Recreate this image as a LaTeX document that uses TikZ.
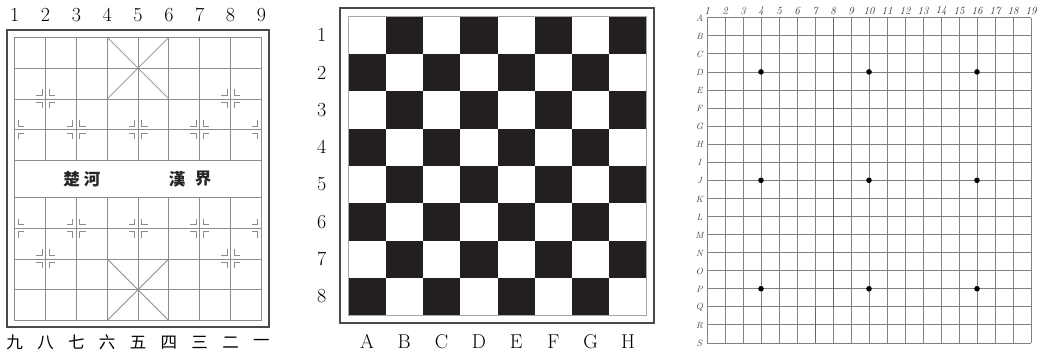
\documentclass[tikz,border=0pt]{standalone}
\usepackage{fontspec}
\newfontfamily\cjk{Noto Sans CJK SC}
\definecolor{xqgray}{HTML}{8C8C8C}
\definecolor{framegray}{HTML}{4A4A4A}
\definecolor{sqblack}{HTML}{231F20}
\definecolor{gogray}{HTML}{828282}
\newcommand\xqmark[3]{%
  \foreach \sx in {#3}{\foreach \sy in {-1,1}{%
    \draw[xqgrid] ({#1+\sx*9.5},{#2+\sy*3.5}) -- ({#1+\sx*3.5},{#2+\sy*3.5}) -- ({#1+\sx*3.5},{#2+\sy*9.5});
  }}}
\begin{document}
\begin{tikzpicture}[x=1pt,y=-1pt,
  xqgrid/.style={draw=xqgray,line width=0.8pt},
  xqframe/.style={draw=framegray,line width=2pt},
  numlabel/.style={font=\fontsize{20}{20}\selectfont,inner sep=0pt,anchor=center},
  cjklabel/.style={font=\cjk\fontsize{16.5}{16.5}\selectfont,inner sep=0pt,anchor=center},
  river/.style={font=\cjk\bfseries\fontsize{16.5}{16.5}\selectfont,inner sep=0pt,anchor=center,text=black!85},
  chframe/.style={draw=framegray,line width=1.8pt},
  chsq/.style={fill=sqblack},
  goline/.style={draw=gogray,line width=0.8pt},
  godark/.style={draw=black!60,line width=0.8pt},
  gostar/.style={fill=black,circle,inner sep=0pt,minimum size=5.6pt},
  golabtop/.style={font=\itshape\fontsize{11}{11}\selectfont,inner sep=0pt,anchor=center,text=black!80},
  golableft/.style={font=\itshape\fontsize{9}{9}\selectfont,inner sep=0pt,anchor=center,text=black!75}]
\useasboundingbox (0,0) rectangle (1038,351);

% ================= Xiangqi =================
\draw[xqframe] (7,30) rectangle (268.5,326.5);
\foreach \y in {37.3,68.1,98.9,129.7,160.5,197.3,228.1,258.9,289.7,320.5}
  \draw[xqgrid] (14.7,\y) -- (261.3,\y);
\foreach \c in {0,...,8}{
  \pgfmathsetmacro\xx{14.7+\c*30.83}
  \ifnum\c=0 \draw[xqgrid] (\xx,37.3) -- (\xx,320.5);
  \else\ifnum\c=8 \draw[xqgrid] (\xx,37.3) -- (\xx,320.5);
  \else
    \draw[xqgrid] (\xx,37.3) -- (\xx,160.5);
    \draw[xqgrid] (\xx,197.3) -- (\xx,320.5);
  \fi\fi
}
% palaces
\draw[xqgrid] (107.2,37.3) -- (168.8,98.9);
\draw[xqgrid] (168.8,37.3) -- (107.2,98.9);
\draw[xqgrid] (107.2,258.9) -- (168.8,320.5);
\draw[xqgrid] (168.8,258.9) -- (107.2,320.5);
% position marks
\xqmark{45.53}{98.9}{-1,1}
\xqmark{230.5}{98.9}{-1,1}
\xqmark{45.53}{258.9}{-1,1}
\xqmark{230.5}{258.9}{-1,1}
\foreach \yy in {129.7,228.1}{
  \xqmark{14.7}{\yy}{1}
  \xqmark{76.36}{\yy}{-1,1}
  \xqmark{138.02}{\yy}{-1,1}
  \xqmark{199.68}{\yy}{-1,1}
  \xqmark{261.34}{\yy}{-1}
}
% top numbers
\foreach \n in {1,...,9}
  \node[numlabel] (xqtop\n) at ({14.7+(\n-1)*30.83},15) {\n};
% bottom chinese numerals
\foreach \t [count=\n from 0] in {九,八,七,六,五,四,三,二,一}
  \node[cjklabel] (xqbot\n) at ({14.7+\n*30.83},342.5) {\t};
% river
\node[river] (chu) at (71.5,179) {楚};
\node[river] (he) at (92,179) {河};
\node[river] (han) at (177,179) {漢};
\node[river] (jie) at (203,179) {界};

% ================= Chess =================
\draw[chframe] (340,8.3) rectangle (654.3,323.3);
\foreach \i in {0,...,7}{
  \foreach \j in {0,...,7}{
    \pgfmathtruncatemacro\sqpar{mod(\i+\j,2)}
    \ifnum\sqpar=1
      \fill[chsq] ({348.3+\i*37.3},{16.7+\j*37.3}) rectangle ++(37.3,37.3);
    \fi
  }
}
\draw[draw=gray!70,line width=0.6pt] (348.3,16.7) rectangle (646.7,315.1);
\foreach \n in {1,...,8}
  \node[numlabel] (chrow\n) at (321.7,{16.7+(\n-0.5)*37.3}) {\n};
\foreach \l [count=\n from 0] in {A,B,C,D,E,F,G,H}
  \node[numlabel] (chcol\n) at ({348.3+(\n+0.5)*37.3},341.5) {\l};

% ================= Go =================
\foreach \k in {0,...,18}{
  \draw[goline] ({707+\k*18},17.7) -- ({707+\k*18},343);
  \draw[goline] (707,{17.7+\k*18.07}) -- (1031,{17.7+\k*18.07});
}
\draw[godark] (833,17.7) -- (833,307.1);
\draw[godark] (815,307.1) -- (815,343);
\foreach \a in {3,9,15}{
  \foreach \b in {3,9,15}{
    \node[gostar] (star\a-\b) at ({707+\a*18},{17.7+\b*18.07}) {};
  }
}
\foreach \n in {1,...,19}
  \node[golabtop] (gotop\n) at ({707+(\n-1)*18},11.3) {\n};
\foreach \l [count=\n from 0] in {A,B,C,D,E,F,G,H,I,J,K,L,M,N,O,P,Q,R,S}
  \node[golableft] (goleft\n) at (699.5,{18.3+\n*18.07}) {\l};
\end{tikzpicture}
\end{document}
